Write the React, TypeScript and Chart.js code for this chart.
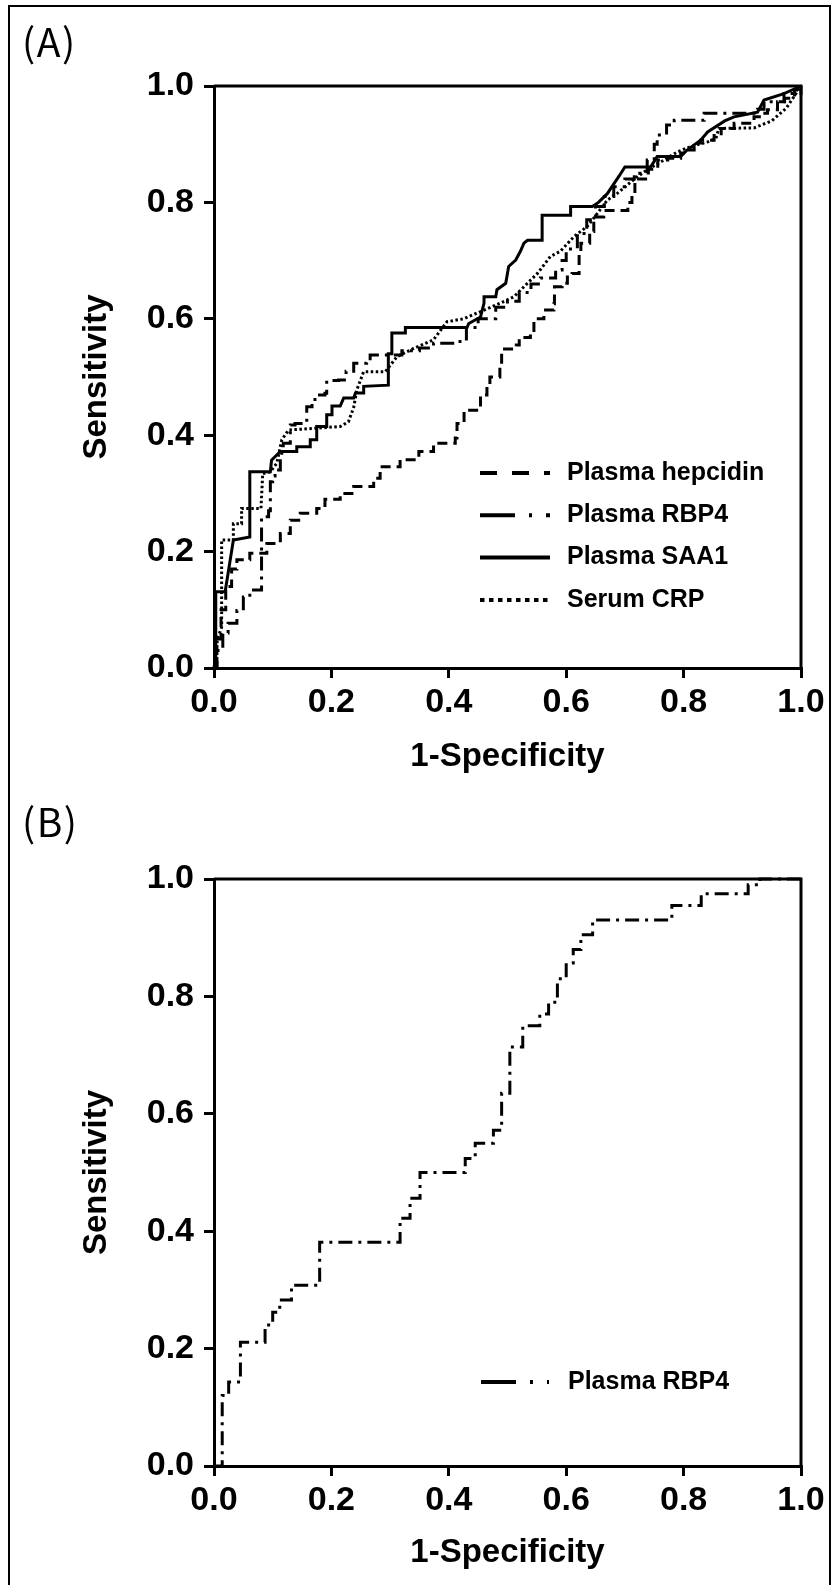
import React, { useEffect, useRef } from 'react';
import { Chart, registerables } from 'chart.js';

Chart.register(...registerables);

// ---------- shared axis content ----------
const tickValues = [0, 0.2, 0.4, 0.6, 0.8, 1.0];
const xAxisTitle = '1-Specificity';
const yAxisTitle = 'Sensitivity';

// ---------- Panel A series (1-Specificity, Sensitivity) ----------
const hepcidinLabel = 'Plasma hepcidin';
const hepcidinX = [0, 0.005, 0.012, 0.02, 0.03, 0.039, 0.061, 0.09, 0.113, 0.13, 0.147, 0.175, 0.189, 0.215, 0.238, 0.272, 0.283, 0.317, 0.349, 0.374, 0.411, 0.414, 0.426, 0.454, 0.465, 0.47, 0.487, 0.49, 0.515, 0.52, 0.539, 0.545, 0.562, 0.579, 0.58, 0.593, 0.602, 0.61, 0.622, 0.625, 0.64, 0.647, 0.664, 0.699, 0.705, 0.712, 0.717, 0.735, 0.74, 0.756, 0.773, 0.795, 0.806, 0.818, 0.829, 0.852, 0.864, 0.886, 0.92, 0.932, 0.943, 0.96, 0.972, 0.989, 1.0];
const hepcidinY = [0, 0.05, 0.1, 0.14, 0.17, 0.186, 0.197, 0.214, 0.231, 0.254, 0.266, 0.274, 0.29, 0.3, 0.312, 0.326, 0.346, 0.358, 0.372, 0.386, 0.395, 0.42, 0.443, 0.469, 0.483, 0.5, 0.52, 0.548, 0.555, 0.568, 0.58, 0.6, 0.615, 0.626, 0.655, 0.661, 0.672, 0.678, 0.713, 0.73, 0.75, 0.775, 0.786, 0.786, 0.8, 0.812, 0.84, 0.84, 0.857, 0.873, 0.876, 0.885, 0.89, 0.902, 0.907, 0.918, 0.927, 0.936, 0.947, 0.953, 0.959, 0.973, 0.979, 0.993, 1.0];

const rbp4Label = 'Plasma RBP4';
const rbp4AX = [0, 0.005, 0.015, 0.024, 0.039, 0.05, 0.061, 0.081, 0.081, 0.093, 0.096, 0.1, 0.104, 0.113, 0.118, 0.13, 0.138, 0.158, 0.167, 0.172, 0.189, 0.192, 0.212, 0.225, 0.238, 0.26, 0.266, 0.303, 0.32, 0.35, 0.374, 0.4, 0.414, 0.43, 0.45, 0.48, 0.5, 0.52, 0.54, 0.556, 0.579, 0.582, 0.593, 0.6, 0.619, 0.635, 0.65, 0.665, 0.681, 0.7, 0.716, 0.738, 0.75, 0.755, 0.771, 0.771, 0.784, 0.829, 0.835, 0.88, 0.926, 0.937, 0.971, 1.0];
const rbp4AY = [0, 0.03, 0.06, 0.077, 0.099, 0.122, 0.134, 0.142, 0.26, 0.27, 0.32, 0.33, 0.34, 0.369, 0.386, 0.4175, 0.42, 0.449, 0.458, 0.469, 0.472, 0.494, 0.495, 0.51, 0.5235, 0.527, 0.538, 0.538, 0.545, 0.55, 0.558, 0.558, 0.561, 0.585, 0.6, 0.62, 0.63, 0.645, 0.66, 0.67, 0.67, 0.684, 0.7, 0.72, 0.7465, 0.77, 0.793, 0.81, 0.827, 0.84, 0.85, 0.873, 0.9, 0.916, 0.922, 0.933, 0.941, 0.941, 0.953, 0.953, 0.96, 0.973, 0.987, 1.0];

const saa1Label = 'Plasma SAA1';
const saa1X = [0, 0.003, 0.003, 0.019, 0.033, 0.061, 0.061, 0.096, 0.098, 0.113, 0.141, 0.141, 0.164, 0.164, 0.175, 0.175, 0.192, 0.192, 0.201, 0.201, 0.215, 0.221, 0.238, 0.241, 0.255, 0.255, 0.297, 0.297, 0.303, 0.303, 0.326, 0.326, 0.431, 0.434, 0.454, 0.46, 0.46, 0.48, 0.482, 0.497, 0.502, 0.514, 0.522, 0.528, 0.534, 0.559, 0.559, 0.6075, 0.6075, 0.6445, 0.655, 0.67, 0.68, 0.69, 0.7, 0.744, 0.755, 0.795, 0.806, 0.829, 0.841, 0.87, 0.886, 0.926, 0.937, 0.971, 1.0];
const saa1Y = [0, 0, 0.131, 0.131, 0.22, 0.225, 0.337, 0.337, 0.357, 0.372, 0.372, 0.38, 0.38, 0.392, 0.392, 0.415, 0.415, 0.435, 0.435, 0.45, 0.45, 0.464, 0.464, 0.4725, 0.4725, 0.484, 0.486, 0.54, 0.54, 0.5756, 0.5756, 0.585, 0.585, 0.592, 0.603, 0.627, 0.638, 0.638, 0.65, 0.661, 0.69, 0.701, 0.716, 0.73, 0.735, 0.735, 0.778, 0.778, 0.793, 0.793, 0.8, 0.815, 0.83, 0.845, 0.861, 0.861, 0.879, 0.879, 0.89, 0.907, 0.921, 0.94, 0.947, 0.955, 0.976, 0.987, 1.0];

const crpLabel = 'Serum CRP';
const crpX = [0, 0.006, 0.013, 0.013, 0.033, 0.033, 0.047, 0.047, 0.08, 0.083, 0.096, 0.107, 0.1155, 0.127, 0.175, 0.215, 0.229, 0.238, 0.2434, 0.2548, 0.2918, 0.3117, 0.34, 0.374, 0.397, 0.4255, 0.46, 0.488, 0.511, 0.528, 0.551, 0.573, 0.59, 0.613, 0.636, 0.653, 0.67, 0.687, 0.704, 0.721, 0.738, 0.767, 0.79, 0.812, 0.841, 0.855, 0.86, 0.92, 0.95, 0.975, 1.0];
const crpY = [0, 0.05, 0.07, 0.22, 0.22, 0.248, 0.248, 0.274, 0.274, 0.334, 0.337, 0.352, 0.392, 0.409, 0.412, 0.415, 0.423, 0.448, 0.478, 0.509, 0.509, 0.535, 0.549, 0.564, 0.595, 0.6, 0.615, 0.627, 0.638, 0.655, 0.678, 0.707, 0.716, 0.741, 0.759, 0.781, 0.804, 0.8155, 0.83, 0.844, 0.856, 0.873, 0.887, 0.896, 0.904, 0.91, 0.927, 0.928, 0.94, 0.962, 1.0];

// ---------- Panel B series ----------
const rbp4BX = [0, 0.014, 0.014, 0.025, 0.025, 0.045, 0.045, 0.087, 0.087, 0.1, 0.1, 0.112, 0.112, 0.132, 0.132, 0.18, 0.18, 0.317, 0.317, 0.334, 0.334, 0.351, 0.351, 0.428, 0.428, 0.445, 0.445, 0.476, 0.476, 0.49, 0.49, 0.504, 0.504, 0.526, 0.526, 0.555, 0.555, 0.57, 0.57, 0.585, 0.585, 0.6, 0.6, 0.612, 0.612, 0.625, 0.625, 0.645, 0.645, 0.78, 0.78, 0.83, 0.83, 0.91, 0.91, 0.93, 0.93, 1.0];
const rbp4BY = [0, 0, 0.12, 0.12, 0.143, 0.143, 0.211, 0.211, 0.24, 0.24, 0.262, 0.262, 0.283, 0.283, 0.308, 0.308, 0.381, 0.381, 0.422, 0.422, 0.456, 0.456, 0.5, 0.5, 0.524, 0.524, 0.55, 0.55, 0.572, 0.572, 0.635, 0.635, 0.714, 0.714, 0.75, 0.75, 0.77, 0.77, 0.79, 0.79, 0.83, 0.83, 0.857, 0.857, 0.88, 0.88, 0.905, 0.905, 0.93, 0.93, 0.955, 0.955, 0.975, 0.975, 0.99, 0.99, 1.0, 1.0];

// ---------- styles ----------
const FONT_FAMILY = '"Liberation Sans", Arial, Helvetica, sans-serif';
const TICK_SIZE = 34;
const TITLE_SIZE = 33;
const DASH_HEPCIDIN = [10, 6];
const DASH_RBP4 = [14, 6, 3, 6];
const DASH_SAA1: number[] = [];
const DASH_CRP = [2.5, 2.5];
const LEGEND_DASH_HEPCIDIN = [17, 15];
const LEGEND_DASH_RBP4 = [35, 14, 3, 14];
const LEGEND_DASH_SAA1: number[] = [];
const LEGEND_DASH_CRP = [4.5, 4.5];

const toPoints = (xs: number[], ys: number[]) => xs.map((x, i) => ({ x, y: ys[i] }));

function makeDataset(label: string, xs: number[], ys: number[], dash: number[], stepped: any) {
  return {
    label,
    data: toPoints(xs, ys),
    borderColor: '#000',
    backgroundColor: '#000',
    borderWidth: 3,
    borderDash: dash,
    borderCapStyle: 'butt',
    borderJoinStyle: 'miter',
    pointRadius: 0,
    pointHoverRadius: 0,
    fill: false,
    tension: 0,
    stepped,
    clip: false,
  };
}

const framePlugin = {
  id: 'frameBox',
  afterDatasetsDraw(chart: any) {
    const { ctx, chartArea } = chart;
    ctx.save();
    ctx.strokeStyle = '#000';
    ctx.lineWidth = 3;
    ctx.setLineDash([]);
    ctx.beginPath();
    ctx.moveTo(chartArea.left, chartArea.top);
    ctx.lineTo(chartArea.right, chartArea.top);
    ctx.lineTo(chartArea.right, chartArea.bottom);
    ctx.stroke();
    ctx.restore();
  },
};

function legendPlugin(dashes: number[][], lineX0: number, lineX1: number, textX: number, yStart: number, yStep: number) {
  return {
    id: 'customLegend',
    afterDraw(chart: any) {
      const { ctx } = chart;
      ctx.save();
      chart.data.datasets.forEach((ds: any, i: number) => {
        const y = yStart + i * yStep;
        ctx.beginPath();
        ctx.setLineDash(dashes[i]);
        ctx.lineWidth = 4;
        ctx.lineCap = 'butt';
        ctx.strokeStyle = '#000';
        ctx.moveTo(lineX0, y);
        ctx.lineTo(lineX1, y);
        ctx.stroke();
        ctx.setLineDash([]);
        ctx.fillStyle = '#000';
        ctx.font = `bold 25px ${FONT_FAMILY}`;
        ctx.textBaseline = 'middle';
        ctx.textAlign = 'left';
        ctx.fillText(ds.label, textX, y);
      });
      ctx.restore();
    },
  };
}

function makeOptions(padTop: number, xAxisHeight: number, xTitlePadBottom: number) {
  const tickFont = { family: FONT_FAMILY, size: TICK_SIZE, weight: 'bold' as const };
  const titleFont = { family: FONT_FAMILY, size: TITLE_SIZE, weight: 'bold' as const };
  const common = {
    type: 'linear' as const,
    min: 0,
    max: 1,
    afterBuildTicks: (s: any) => {
      s.ticks = tickValues.map((v) => ({ value: v }));
    },
    grid: {
      drawOnChartArea: false,
      drawTicks: true,
      tickLength: 10,
      lineWidth: 3,
      color: '#000',
    },
    border: { display: true, width: 3, color: '#000' },
  };
  return {
    responsive: false,
    animation: false as const,
    devicePixelRatio: 1,
    layout: { padding: { left: 0, top: padTop, right: 31, bottom: 0 } },
    plugins: { legend: { display: false }, tooltip: { enabled: false } },
    events: [],
    scales: {
      x: {
        ...common,
        position: 'bottom' as const,
        ticks: {
          font: tickFont,
          color: '#000',
          padding: 4,
          maxRotation: 0,
          callback: (v: any) => Number(v).toFixed(1),
        },
        title: {
          display: true,
          text: xAxisTitle,
          font: titleFont,
          color: '#000',
          padding: { top: 0, bottom: xTitlePadBottom },
        },
        afterFit: (s: any) => {
          s.height = xAxisHeight;
        },
      },
      y: {
        ...common,
        position: 'left' as const,
        ticks: {
          font: tickFont,
          color: '#000',
          padding: 10,
          callback: (v: any) => Number(v).toFixed(1),
        },
        title: {
          display: true,
          text: yAxisTitle,
          font: titleFont,
          color: '#000',
          padding: { top: 77, bottom: 0 },
        },
        afterFit: (s: any) => {
          s.width = 214;
        },
      },
    },
  };
}

export default function App() {
  const refA = useRef<HTMLCanvasElement>(null);
  const refB = useRef<HTMLCanvasElement>(null);

  useEffect(() => {
    const chartA = new Chart(refA.current as HTMLCanvasElement, {
      type: 'line',
      data: {
        datasets: [
          makeDataset(hepcidinLabel, hepcidinX, hepcidinY, DASH_HEPCIDIN, 'before'),
          makeDataset(rbp4Label, rbp4AX, rbp4AY, DASH_RBP4, 'before'),
          makeDataset(saa1Label, saa1X, saa1Y, DASH_SAA1, false),
          makeDataset(crpLabel, crpX, crpY, DASH_CRP, false),
        ] as any,
      },
      options: makeOptions(86, 117, 8.2) as any,
      plugins: [
        framePlugin,
        legendPlugin([LEGEND_DASH_HEPCIDIN, LEGEND_DASH_RBP4, LEGEND_DASH_SAA1, LEGEND_DASH_CRP], 480, 550, 567, 473, 42.3),
      ],
    });
    const chartB = new Chart(refB.current as HTMLCanvasElement, {
      type: 'line',
      data: {
        datasets: [makeDataset(rbp4Label, rbp4BX, rbp4BY, DASH_RBP4, false)] as any,
      },
      options: makeOptions(94, 119, 12.2) as any,
      plugins: [framePlugin, legendPlugin([LEGEND_DASH_RBP4], 481, 549, 568, 597, 0)],
    });
    return () => {
      chartA.destroy();
      chartB.destroy();
    };
  }, []);

  const panelLabel: React.CSSProperties = {
    position: 'absolute',
    fontFamily: '"Noto Sans CJK KR", "Noto Sans", sans-serif',
    fontSize: 39,
    lineHeight: '39px',
    letterSpacing: 1.5,
    color: '#000',
    fontWeight: 400,
    whiteSpace: 'nowrap',
  };

  return (
    <div style={{ position: 'absolute', left: 0, top: 0, width: 832, height: 1585, overflow: 'hidden', background: '#fff' }}>
      <div
        style={{
          position: 'absolute',
          left: 8,
          top: 5,
          width: 823,
          height: 1600,
          boxSizing: 'border-box',
          border: '2px solid #000',
        }}
      />
      <canvas ref={refA} width={832} height={785} style={{ position: 'absolute', left: 0, top: 0, width: 832, height: 785 }} />
      <canvas ref={refB} width={832} height={800} style={{ position: 'absolute', left: 0, top: 785, width: 832, height: 800 }} />
      <div style={{ ...panelLabel, left: 22, top: 21 }}>(A)</div>
      <div style={{ ...panelLabel, left: 22, top: 801 }}>(B)</div>
    </div>
  );
}
